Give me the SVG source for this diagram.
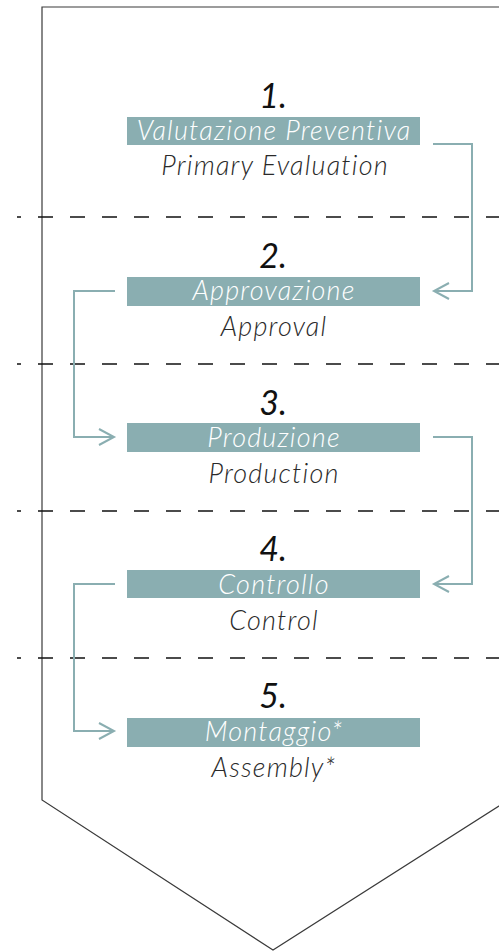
<svg xmlns="http://www.w3.org/2000/svg" width="499" height="952" viewBox="0 0 499 952">
<defs>
<style>
.outline{fill:none;stroke:#3a3a3a;stroke-width:1.2}
.dash{stroke:#111;stroke-width:1.3;stroke-dasharray:15 17;stroke-dashoffset:11}
.box{fill:#8aaeb1}
.num{font-family:Lato,"Open Sans",sans-serif;font-style:italic;font-weight:400;font-size:34px;fill:#111;text-anchor:middle}
.it{font-family:Lato,"Open Sans",sans-serif;font-style:italic;font-weight:300;font-size:27px;letter-spacing:1.2px;fill:#fff;text-anchor:middle}
.en{font-family:Lato,"Open Sans",sans-serif;font-style:italic;font-weight:300;font-size:27px;letter-spacing:1.2px;fill:#2a2a2a;text-anchor:middle}
.conn{fill:none;stroke:#8aaeb1;stroke-width:2;marker-end:url(#arr)}
</style>
<marker id="arr" viewBox="-16 0 20 20" refX="1" refY="10" markerWidth="20" markerHeight="20" markerUnits="userSpaceOnUse" orient="auto" overflow="visible">
<path d="M-14,2 L1,10 L-14,18" fill="none" stroke="#8aaeb1" stroke-width="2"/>
</marker>
</defs>
<path class="outline" d="M510,7 L42,7 L42,800 L273,950 L510,799"/>
<g id="separators">
<line class="dash" x1="17" y1="217" x2="499" y2="217"/>
<line class="dash" x1="17" y1="364" x2="499" y2="364"/>
<line class="dash" x1="17" y1="511" x2="499" y2="511"/>
<line class="dash" x1="17" y1="658" x2="499" y2="658"/>
</g>
<g id="connectors">
<path class="conn" d="M433,144 H472 V291 H434"/>
<path class="conn" d="M115,291 H74 V437 H114"/>
<path class="conn" d="M433,437 H472 V584 H434"/>
<path class="conn" d="M115,584 H74 V731 H114"/>
</g>
<g id="step1">
<text class="num" x="273" y="108">1.</text>
<rect class="box" x="127" y="117" width="293" height="28"/>
<text class="it" x="274" y="140">Valutazione Preventiva</text>
<text class="en" x="275" y="175">Primary Evaluation</text>
</g>
<g id="step2">
<text class="num" x="273" y="268">2.</text>
<rect class="box" x="127" y="277" width="293" height="29"/>
<text class="it" x="274" y="300">Approvazione</text>
<text class="en" x="274" y="336">Approval</text>
</g>
<g id="step3">
<text class="num" x="273" y="415">3.</text>
<rect class="box" x="127" y="423" width="293" height="29"/>
<text class="it" x="274" y="447">Produzione</text>
<text class="en" x="274" y="483">Production</text>
</g>
<g id="step4">
<text class="num" x="273" y="561">4.</text>
<rect class="box" x="127" y="570" width="293" height="28"/>
<text class="it" x="274" y="594">Controllo</text>
<text class="en" x="274" y="630">Control</text>
</g>
<g id="step5">
<text class="num" x="273" y="708">5.</text>
<rect class="box" x="127" y="718" width="293" height="29"/>
<text class="it" x="274" y="741">Montaggio*</text>
<text class="en" x="274" y="777">Assembly*</text>
</g>
</svg>
